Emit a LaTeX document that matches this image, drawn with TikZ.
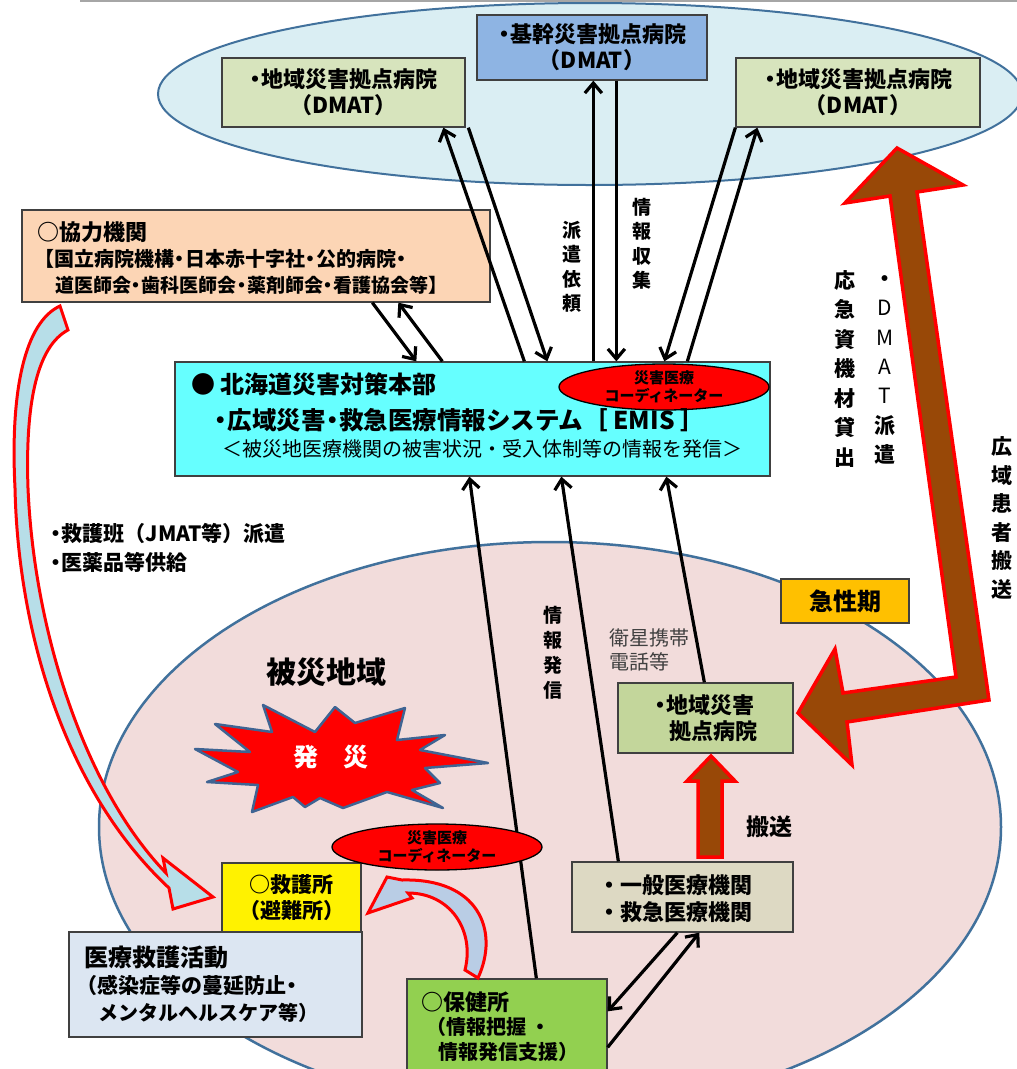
\documentclass[tikz,border=0pt]{standalone}
\usepackage{fontspec}
\setmainfont{Noto Sans CJK JP}
\usetikzlibrary{arrows.meta,calc,shapes.geometric}
\newcommand{\myfs}[2]{\fontsize{#1}{#2}\selectfont}
\newcommand{\nd}{\makebox[0.55em]{・}}
\definecolor{topbl}{HTML}{DAEEF3}
\definecolor{ellln}{HTML}{41719C}
\definecolor{pinkf}{HTML}{F2DCDB}
\definecolor{dmatg}{HTML}{D7E4BD}
\definecolor{kikanb}{HTML}{8EB4E3}
\definecolor{peach}{HTML}{FCD5B5}
\definecolor{cyanb}{HTML}{66FFFF}
\definecolor{orng}{HTML}{FFC000}
\definecolor{chig}{HTML}{C3D69B}
\definecolor{ippanc}{HTML}{DDD9C3}
\definecolor{iryoc}{HTML}{DCE6F2}
\definecolor{hokenc}{HTML}{92D050}
\definecolor{brn}{HTML}{984807}
\definecolor{lblue}{HTML}{B7DEE8}
\definecolor{lbluetwo}{HTML}{B9CDE5}
\definecolor{burstln}{HTML}{3F6493}
\definecolor{grytxt}{HTML}{404040}
\definecolor{boxln}{HTML}{404040}
\begin{document}
\begin{tikzpicture}[x=1pt,y=-1pt,
  box/.style={draw=boxln, line width=1.3pt, inner sep=0pt, align=center},
  txt/.style={inner sep=0pt, anchor=west},
  vt/.style={inner sep=0pt, align=center},
  arr/.style={line width=3.2pt, -{Straight Barb[length=10pt,width=17pt]}},
  coordell/.style={ellipse, draw=black, line width=1.3pt, fill=red, minimum width=210pt, minimum height=46pt, inner sep=0pt, align=center, font=\bfseries\myfs{15}{18}},
  bigarrow/.style={fill=brn, draw=red, line width=3.5pt, line join=miter},
  carrow/.style={draw=red, line width=3pt, line join=miter},
  burst/.style={fill=red, draw=burstln, line width=2.5pt, line join=round}
]
\useasboundingbox (0,0) rectangle (1017,1069);
\clip (0,0) rectangle (1017,1069);
\fill[white] (0,0) rectangle (1017,1069);
% top rule
\draw[gray!70, line width=1.5pt] (80,1) -- (1017,1);
% ellipses
\draw[fill=topbl, draw=ellln, line width=2pt] (590,94) ellipse [x radius=432pt, y radius=91pt];
\draw[fill=pinkf, draw=ellln, line width=2.5pt] (550,827) ellipse [x radius=451pt, y radius=285pt];
% big L arrow
\draw[bigarrow] (897,148) -- (963,185) -- (917,192) -- (989,700) -- (847,722) -- (852,765) -- (798,713) -- (835,649) -- (843,693) -- (956,677) -- (890,196) -- (845,203) -- cycle;
% left curved arrow
\draw[carrow, fill=lblue] (60,306) .. controls (25,322) and (10,390) .. (15,488) .. controls (18,630) and (64,790) .. (169,888) -- (173,909) -- (213,897) -- (163,858) -- (166,873) .. controls (84,788) and (34,630) .. (28,488) .. controls (25,400) and (38,346) .. (68,330) -- cycle;
% boxes
\node[box, fill=dmatg, minimum width=243pt, minimum height=69pt, font=\bfseries\myfs{22}{26}] (dmatL) at (343.5,92.5) {\nd 地域災害拠点病院\\（DMAT）};
\node[box, fill=kikanb, minimum width=230pt, minimum height=65pt, font=\bfseries\myfs{22}{26}] (kikan) at (592,47.5) {\nd 基幹災害拠点病院\\（DMAT）};
\node[box, fill=dmatg, minimum width=244pt, minimum height=69pt, font=\bfseries\myfs{22}{26}] (dmatR) at (858,92.5) {\nd 地域災害拠点病院\\（DMAT）};
\node[box, fill=peach, minimum width=468pt, minimum height=92pt] (kyoryoku) at (256,256) {};
\node[box, fill=cyanb, minimum width=595pt, minimum height=114pt] (emis) at (472.5,419) {};
\node[box, fill=orng, minimum width=128pt, minimum height=44pt, font=\bfseries\myfs{24}{28}] (kyusei) at (845,601) {急性期};
\node[box, fill=chig, minimum width=175pt, minimum height=70pt] (chiikiL) at (705.5,718) {};
\node[box, fill=ippanc, minimum width=221pt, minimum height=70pt] (ippan) at (682.5,897) {};
\node[box, fill=yellow, minimum width=139pt, minimum height=69pt, font=\bfseries\myfs{21}{26}] (kyugo) at (291.5,897.5) {○救護所\\（避難所）};
\node[box, fill=iryoc, minimum width=293pt, minimum height=105pt] (iryo) at (215.5,984.5) {};
\node[box, fill=hokenc, minimum width=200pt, minimum height=102pt] (hoken) at (507,1030) {};
% starburst
\draw[burst] (263,705) -- (315,732) -- (335,707) -- (355,723) -- (405,708) -- (397,740) -- (445,735) -- (420,750) -- (488,763) -- (425,768) -- (440,783) -- (412,790) -- (443,808) -- (387,792) -- (343,808) -- (320,798) -- (305,807) -- (293,797) -- (252,812) -- (258,785) -- (207,782) -- (238,772) -- (195,749) -- (250,752) -- (215,724) -- (272,732) -- cycle;
% small brown arrow
\draw[bigarrow] (698,857) -- (698,781) -- (687,781) -- (711,756) -- (735,781) -- (722,781) -- (722,857) -- cycle;
% second curved arrow
\draw[carrow, fill=lbluetwo] (465,970) -- (478,978) .. controls (500,930) and (478,878) .. (402,880) -- (387,877) -- (368,913) -- (412,898) -- (408,893) .. controls (450,893) and (475,930) .. (465,970) -- cycle;
% connectors
\draw[arr] ($(emis.north west)+(350,0)$) -- ($(dmatL.south west)+(222,0)$);
\draw[arr] ($(dmatL.south west)+(247,0)$) -- ($(emis.north west)+(373,0)$);
\draw[arr] ($(emis.north west)+(419,0)$) -- ($(kikan.south west)+(117,0)$);
\draw[arr] ($(kikan.south west)+(140,0)$) -- ($(emis.north west)+(442,0)$);
\draw[arr] (dmatR.south west) -- ($(emis.north west)+(490,0)$);
\draw[arr] ($(emis.north west)+(513,0)$) -- ($(dmatR.south west)+(22,0)$);
\draw[arr] ($(kyoryoku.south west)+(351,0)$) -- ($(emis.north west)+(242,0)$);
\draw[arr] ($(emis.north west)+(268,0)$) -- ($(kyoryoku.south west)+(377,0)$);
\draw[arr] ($(hoken.north west)+(130,0)$) -- ($(emis.south west)+(295,0)$);
\draw[arr] ($(ippan.north west)+(47,0)$) -- ($(emis.south west)+(387,0)$);
\draw[arr] ($(chiikiL.north west)+(87,0)$) -- ($(emis.south west)+(492,0)$);
\draw[arr] ($(ippan.south west)+(106,0)$) -- ($(hoken.north east)+(0,33)$);
\draw[arr] ($(hoken.north east)+(0,69)$) -- ($(ippan.south west)+(128,0)$);
% coordinator ellipses
\node[coordell] (coordA) at (664,387) {災害医療\\コーディネーター};
\node[coordell] (coordB) at (437,847) {災害医療\\コーディネーター};
% texts
\node[txt, font=\bfseries\myfs{22}{26}] (kyoT1) at (37,232) {○協力機関};
\node[txt, font=\bfseries\myfs{20}{24}] (kyoT2) at (34,259) {【国立病院機構\nd 日本赤十字社\nd 公的病院\nd};
\node[txt, font=\bfseries\myfs{19}{24}] (kyoT3) at (55,285) {道医師会\nd 歯科医師会\nd 薬剤師会\nd 看護協会等】};
\node[txt, font=\bfseries\myfs{24}{28}] (emT1) at (191,384) {● 北海道災害対策本部};
\node[txt, font=\bfseries\myfs{24.5}{28}] (emT2) at (214,420) {\nd 広域災害\nd 救急医療情報システム［ EMIS ］};
\node[txt, font=\myfs{20}{24}] (emT3) at (222,449) {＜被災地医療機関の被害状況・受入体制等の情報を発信＞};
\node[vt, font=\bfseries\myfs{19}{24.5}] (vHaken) at (572,267) {派\\遣\\依\\頼};
\node[vt, font=\bfseries\myfs{19}{24.5}] (vShushu) at (642,244) {情\\報\\収\\集};
\node[vt, font=\bfseries\myfs{21}{29.5}] (vOkyu) at (845,369) {応\\急\\資\\機\\材\\貸\\出};
\node[vt, font=\bfseries\myfs{21}{29.3}] (vDmat) at (885,370) {・\\{\mdseries D}\\{\mdseries M}\\{\mdseries A}\\{\mdseries T}\\派\\遣};
\node[vt, font=\bfseries\myfs{21}{28.5}] (vKoiki) at (1002,518) {広\\域\\患\\者\\搬\\送};
\node[vt, font=\bfseries\myfs{19}{25}] (vHasshin) at (553,653) {情\\報\\発\\信};
\node[txt, font=\bfseries\myfs{21}{26}] (kyuhanT1) at (50,533) {\nd 救護班（JMAT等）派遣};
\node[txt, font=\bfseries\myfs{21}{26}] (kyuhanT2) at (50,562) {\nd 医薬品等供給};
\node[inner sep=0pt, font=\bfseries\myfs{30}{34}] (hisaiT) at (326,672) {被災地域};
\node[inner sep=0pt, font=\bfseries\myfs{25}{30}, text=white] (hassaiT) at (331,757) {発　災};
\node[txt, font=\myfs{20}{24}, text=grytxt] (eiseiT1) at (609,638) {衛星携帯};
\node[txt, font=\myfs{20}{24}, text=grytxt] (eiseiT2) at (609,662) {電話等};
\node[txt, font=\bfseries\myfs{22}{26}] (chiT1) at (654,705) {\nd 地域災害};
\node[txt, font=\bfseries\myfs{22}{26}] (chiT2) at (669,731) {拠点病院};
\node[inner sep=0pt, font=\bfseries\myfs{23}{26}] (hansoT) at (769,827) {搬送};
\node[txt, font=\bfseries\myfs{22}{26}] (ipT1) at (598,885) {・一般医療機関};
\node[txt, font=\bfseries\myfs{22}{26}] (ipT2) at (598,912) {・救急医療機関};
\node[txt, font=\bfseries\myfs{24}{28}] (irT1) at (84,957) {医療救護活動};
\node[txt, font=\bfseries\myfs{21}{26}] (irT2) at (76,985) {（感染症等の蔓延防止\nd};
\node[txt, font=\bfseries\myfs{20}{26}] (irT3) at (98,1013) {メンタルヘルスケア等）};
\node[txt, font=\bfseries\myfs{22}{26}] (hoT1) at (421,1002) {○保健所};
\node[txt, font=\bfseries\myfs{20}{26}] (hoT2) at (426,1027) {（情報把握 ・};
\node[txt, font=\bfseries\myfs{20}{26}] (hoT3) at (438,1052) {情報発信支援）};
\end{tikzpicture}
\end{document}
